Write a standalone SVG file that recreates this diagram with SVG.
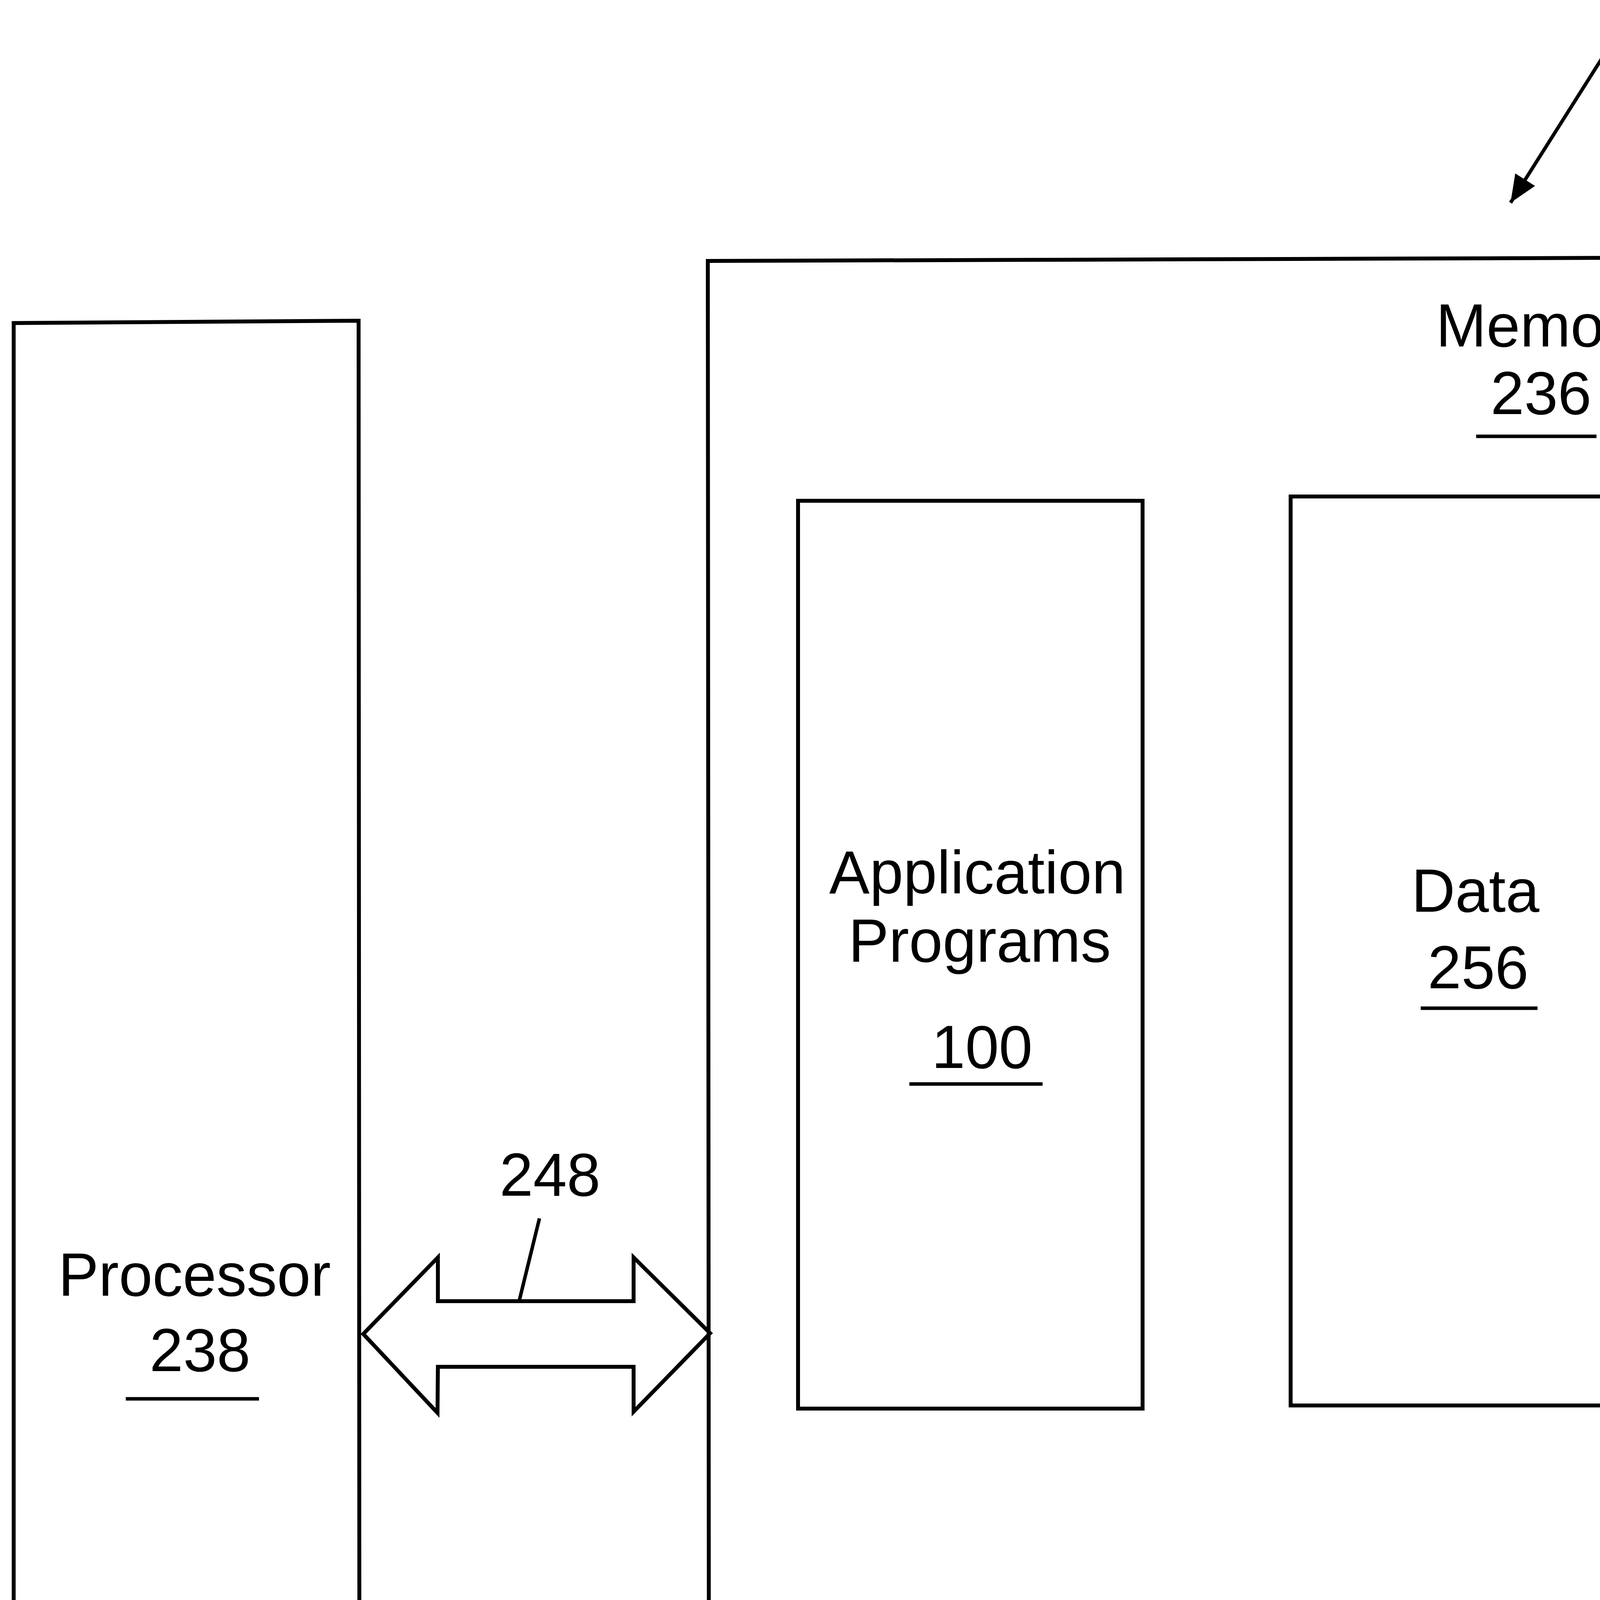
<svg xmlns="http://www.w3.org/2000/svg" width="4451" height="5972" viewBox="0 0 4451 5972">
<defs>
<style>
.box{fill:none;stroke:#000;stroke-width:10;stroke-linejoin:miter}
.ln{fill:none;stroke:#000;stroke-width:9}
.ul{stroke:#000;stroke-width:9}
text{font-family:"Liberation Sans",Arial,sans-serif;font-size:155px;fill:#000;text-anchor:middle}
</style>
<marker id="ah" viewBox="0 0 70 60" refX="70" refY="30" markerWidth="70" markerHeight="60" markerUnits="userSpaceOnUse" orient="auto">
<path d="M0,0 L70,30 L0,60 z" fill="#000"/>
</marker>
</defs>
<rect width="4451" height="5972" fill="#fff"/>
<g id="ref230">
<text x="4303" y="157">230</text>
</g>
<g id="processor">
<path class="box" d="M35,5972 L35,827 L918,821 L921,5972"/>
<text x="498" y="3317">Processor</text>
<text x="512" y="3510">238</text>
<line class="ul" x1="322" y1="3581" x2="663" y2="3581"/>
</g>
<g id="memory">
<path class="box" d="M1812,668 L4440,659 L4440,5962 L1816,5962 Z"/>
<text x="3956" y="887">Memory</text>
<text x="3945" y="1060">236</text>
<line class="ul" x1="3779" y1="1117" x2="4087" y2="1117"/>
</g>
<g id="app">
<rect class="box" x="2043" y="1282" width="882" height="2324"/>
<text x="2502" y="2287">Application</text>
<text x="2508" y="2462">Programs</text>
<text x="2514" y="2734">100</text>
<line class="ul" x1="2328" y1="2775" x2="2669" y2="2775"/>
</g>
<g id="data">
<rect class="box" x="3304" y="1271" width="880" height="2327"/>
<text x="3777" y="2334">Data</text>
<text x="3784" y="2530">256</text>
<line class="ul" x1="3637" y1="2581" x2="3936" y2="2581"/>
</g>
<g id="os">
<rect class="box" x="2046" y="4157" width="887" height="1317"/>
<text x="2512" y="4644">Operating</text>
<text x="2510" y="4818">System</text>
<text x="2502" y="5038">252</text>
<line class="ul" x1="2352" y1="5092" x2="2674" y2="5092"/>
</g>
<g id="io">
<rect class="box" x="3309" y="4148" width="882" height="1321"/>
<text x="3744" y="4591">I/O</text>
<text x="3743" y="4767">Device</text>
<text x="3745" y="4943">Drivers</text>
<text x="3738" y="5145">258</text>
<line class="ul" x1="3576" y1="5210" x2="3882" y2="5210"/>
</g>
<g id="connectors">
<line class="ln" x1="4122" y1="116" x2="3867" y2="519" marker-end="url(#ah)"/>
<polygon class="box" points="930,3415 1121,3219 1121,3331 1622,3331 1622,3219 1818,3413 1622,3614 1622,3499 1121,3499 1120,3617"/>
<line class="ln" x1="1381" y1="3119" x2="1329" y2="3331"/>
<text x="1408" y="3061">248</text>
</g>
</svg>
